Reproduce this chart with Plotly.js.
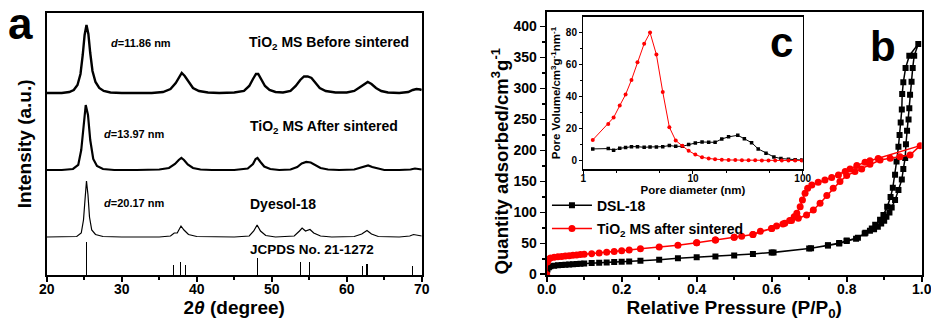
<!DOCTYPE html>
<html>
<head>
<meta charset="utf-8">
<script src="https://cdn.plot.ly/plotly-3.0.1.min.js"></script>
<style>html,body{margin:0;padding:0;background:#fff;}#chart{width:931px;height:323px;}</style>
</head>
<body>
<div id="chart"></div>
<script>
// ---- Panel a: XRD patterns (stacked, arbitrary units as read) ----
const thetaBefore = [20,21,22,23,23.6,24.1,24.5,24.8,25.05,25.3,25.55,25.8,26.1,26.5,27,27.6,28.5,30,32,34,35.5,36.5,37.2,37.7,38,38.4,38.9,39.5,40.3,41.5,43,45,46.3,47,47.5,47.9,48.2,48.6,49.1,49.7,50.5,51.5,52.5,53.2,53.8,54.3,54.8,55.3,55.8,56.4,57.2,58.5,60,61,61.7,62.3,62.8,63.3,63.9,64.6,65.5,67,68.2,68.8,69.3,69.8,70];
const intBefore = [182,182,182,183,185,190,201,220,240,250,241,222,204,193,187,184,182.5,182,182,182,183,186,192,198,202,199,193,187,184,182.5,182,182.5,184,189,196,201,201,196,189,185,183,182.5,184,189,195,198.5,198.5,197,192,187,184,182.5,182.5,184,187.5,191,193,191,187,184,182.5,182,183,185,186,185.5,185];

const thetaAfter = [20,22,23.5,24.2,24.6,24.9,25.2,25.5,25.8,26.2,26.7,27.5,29,32,35,36.3,37.1,37.6,37.95,38.3,38.8,39.5,40.5,42,45,46.8,47.5,47.85,48.1,48.5,49,49.8,51,52.5,53.4,54,54.6,55.2,55.8,56.5,57.5,59,61,61.9,62.4,62.85,63.4,64.1,65,67,68.5,69.1,69.7,70];
const intAfter = [105,105,106,110,125,150,170,160,135,116,109,106,105,105,105.5,107,111,115,117,115,110.5,107,105.5,105,105,106.5,111,116,117,113,108.5,106,105,105.5,108,111.5,113,112.5,110,107,105.5,105,105.5,107.5,109,109.5,108,106.5,105,105,105.5,106.5,106,105.5];

const thetaDyesol = [20,23,24,24.6,24.9,25.1,25.3,25.5,25.7,26,26.5,27.5,30,35,36.5,37,37.4,37.9,38.3,38.9,40,45,47,47.6,48.05,48.5,49.2,50.5,53,53.7,54.05,54.5,55.1,55.6,56.5,58,61,62,62.7,63.3,64.2,67,68.4,68.9,69.5,70];
const intDyesol = [38,38,38.5,42,55,75,94,80,58,45,40.5,38.5,38,38,39,42,42,49,45,40.5,38.5,38,39,44,50,44,39.5,38,39,44,47,44,45.5,42,39,38,38.5,41,44.5,41,38.5,38,39,40.5,39.5,39];

const jcpdsTheta = [25.3,36.95,37.8,38.55,48.05,53.85,55.05,62.1,62.7,68.8];
const jcpdsInt = [33,10.5,13.3,10.5,16.7,13.3,13.3,9,11.5,9.3];

// ---- Panel b: N2 isotherms ----
const dslAdsP = [0,0.002,0.006,0.01,0.02,0.03,0.04,0.05,0.06,0.07,0.08,0.09,0.1,0.12,0.14,0.16,0.18,0.2,0.22,0.25,0.3,0.35,0.4,0.45,0.5,0.55,0.6,0.7,0.75,0.78,0.8,0.825,0.848,0.862,0.873,0.883,0.892,0.9,0.906,0.914,0.92,0.929,0.938,0.947,0.951,0.956,0.958,0.961,0.965,0.967,0.969,0.973,0.976,0.98,0.991];
const dslAdsQ = [0,8,11.5,13,14,14.7,15.2,15.7,16.1,16.5,16.9,17.3,17.6,18.2,18.8,19.3,19.8,20.3,20.8,21.8,23.7,26,27.5,29,30.3,33,35.3,41.8,46.8,50,54,57.5,66,70.5,73,77,82,86.6,93,100,108,120,136,153,170,188,210,232,250,268,290,311,333,353,372];
const dslDesP = [0.967,0.957,0.951,0.948,0.947,0.944,0.941,0.938,0.933,0.929,0.923,0.917,0.908,0.898,0.889,0.876,0.867,0.85,0.83,0.8,0.78,0.75,0.705,0.605];
const dslDesQ = [353,333,310,291,266,245,225,206,182,161,140,125,109,96,88,80,74,67,59,54.5,50.5,47,42,35.5];

const msAdsP = [0,0.002,0.005,0.01,0.02,0.03,0.04,0.05,0.06,0.07,0.08,0.09,0.1,0.12,0.14,0.16,0.18,0.2,0.22,0.25,0.3,0.35,0.4,0.45,0.5,0.52,0.55,0.57,0.6,0.613,0.635,0.653,0.671,0.693,0.711,0.729,0.747,0.764,0.782,0.8,0.822,0.84,0.862,0.889,0.916,0.942,0.969,0.996];
const msAdsQ = [0,20,24.5,26.5,27.5,28.3,29,29.6,30.2,30.8,31.4,32,32.5,33.5,34.5,35.6,36.8,38,39.5,41.5,44,47.2,51,55.5,60,61.7,64.5,69.5,74,78,82.4,87,90.5,95.8,104,114.8,127.2,139,150,159.4,165.9,170.2,177.7,184.7,187.4,190,192.7,207.8];
const msDesP = [0.884,0.862,0.849,0.827,0.809,0.796,0.778,0.76,0.742,0.724,0.707,0.696,0.689,0.682,0.676,0.667,0.66,0.648,0.63,0.6,0.55,0.5,0.45,0.4];
const msDesQ = [187,183.5,181,175.6,170.2,165.9,160.5,156.2,152.4,148.6,144.3,139,131,120,109.3,98.5,93,87,81.5,74,64.5,60,55.5,51];

// ---- Panel c (inset): pore size distribution ----
const poreDslD = [1.22,1.69,1.89,2.15,2.43,2.75,3.12,3.59,4.06,4.64,5.3,6.09,6.96,8.0,9.13,10.5,12.1,13.9,15.9,18.3,21.1,25.6,29.4,34.2,39.3,46.3,54.6,63.3,74.2,85.3,98.1];
const poreDslV = [7.5,7.7,6.6,7.9,8.3,8.9,8.9,8.5,8.7,8.7,8.9,9.6,9.1,9.1,10.2,11.2,11.8,11.6,11.6,13.7,15.0,16.0,13.9,11.4,7.5,4.8,2.5,1.5,1.0,0.8,0.6];
const poreMsD = [1.22,1.69,1.89,2.15,2.43,2.75,3.12,3.59,4.06,4.64,5.3,6.09,6.96,8.0,9.13,10.5,12.1,13.9,15.9,18.3,21.1,24.3,27.9,32.1,36.9,42.4,48.8,56.1,64.5,74.2,85.3,98.1];
const poreMsV = [13.1,23.1,27.0,34.5,41.4,50.5,61.5,73.1,80,66.3,43,21,12.7,9.4,6.3,4.0,2.3,1.5,1.0,0.8,0.6,0.6,0.4,0.4,0.4,0.2,0.2,0.2,0.2,0.2,0.2,0.2];

const FONT = 'Liberation Sans, Arial, sans-serif';
const bold = (size) => ({family: FONT, size: size, color: '#000', weight: 700});

const traces = [
  {x: thetaBefore, y: intBefore, xaxis: 'x', yaxis: 'y', mode: 'lines', line: {color: '#000', width: 2.4}, showlegend: false, name: 'TiO2 MS Before sintered'},
  {x: thetaAfter, y: intAfter, xaxis: 'x', yaxis: 'y', mode: 'lines', line: {color: '#000', width: 2.2}, showlegend: false, name: 'TiO2 MS After sintered'},
  {x: thetaDyesol, y: intDyesol, xaxis: 'x', yaxis: 'y', mode: 'lines', line: {color: '#000', width: 1.2}, showlegend: false, name: 'Dyesol-18'},
  {x: jcpdsTheta, y: jcpdsInt, xaxis: 'x', yaxis: 'y', type: 'bar', width: 0.16, marker: {color: '#000', line: {width: 0}}, showlegend: false, name: 'JCPDS No. 21-1272'},
  {x: dslAdsP.concat(dslDesP), y: dslAdsQ.concat(dslDesQ), xaxis: 'x2', yaxis: 'y2', mode: 'lines+markers', name: 'DSL-18', legendgroup: 'g1',
   line: {color: '#000', width: 1.5}, marker: {symbol: 'square', size: 6, color: '#000'}},
  {x: msAdsP.concat(msDesP), y: msAdsQ.concat(msDesQ), xaxis: 'x2', yaxis: 'y2', mode: 'lines+markers', name: 'TiO<sub>2</sub> MS after sintered', legendgroup: 'g2',
   line: {color: '#ff0000', width: 1.5}, marker: {symbol: 'circle', size: 7, color: '#ff0000'}},
  {x: poreDslD, y: poreDslV, xaxis: 'x3', yaxis: 'y3', mode: 'lines+markers', showlegend: false, name: 'DSL-18 PSD',
   line: {color: '#000', width: 1}, marker: {symbol: 'square', size: 3.5, color: '#000'}},
  {x: poreMsD, y: poreMsV, xaxis: 'x3', yaxis: 'y3', mode: 'lines+markers', showlegend: false, name: 'TiO2 MS PSD',
   line: {color: '#ff0000', width: 1}, marker: {symbol: 'circle', size: 4, color: '#ff0000'}}
];

const axBase = {showgrid: false, zeroline: false, showline: true, linecolor: '#000', mirror: true, ticklabeloverflow: 'allow'};

const layout = {
  width: 931, height: 323,
  margin: {l: 0, r: 0, t: 0, b: 0},
  paper_bgcolor: '#fff', plot_bgcolor: 'rgba(0,0,0,0)',
  font: {family: FONT, color: '#000'},
  bargap: 0,
  xaxis: Object.assign({}, axBase, {domain: [0.0502, 0.4530], anchor: 'y', range: [20, 70], dtick: 10, linewidth: 2,
    ticks: 'outside', ticklen: 5, tickwidth: 1.8, tickcolor: '#000', tickfont: bold(14), ticklabelstandoff: -5,
    minor: {dtick: 5, ticks: 'outside', ticklen: 3, tickwidth: 1.5, tickcolor: '#000'},
    title: {text: '2<i>θ</i> (degree)', font: bold(19), standoff: 2}}),
  yaxis: Object.assign({}, axBase, {domain: [0.1486, 0.9607], anchor: 'x', range: [0, 262.3], linewidth: 2,
    showticklabels: false, ticks: '',
    title: {text: 'Intensity (a.u.)', font: bold(19), standoff: 8}}),
  xaxis2: Object.assign({}, axBase, {domain: [0.5872, 0.99], anchor: 'y2', range: [0, 1], dtick: 0.2, tickformat: '.1f', linewidth: 2,
    ticks: 'outside', ticklen: 5, tickwidth: 1.8, tickcolor: '#000', tickfont: bold(14), ticklabelstandoff: -5,
    minor: {dtick: 0.1, ticks: 'outside', ticklen: 3, tickwidth: 1.5, tickcolor: '#000'},
    title: {text: 'Relative Pressure (P/P<sub>0</sub>)', font: bold(19), standoff: 2}}),
  yaxis2: Object.assign({}, axBase, {domain: [0.1486, 0.9638], anchor: 'x2', range: [-1, 424], dtick: 50, linewidth: 2,
    ticks: 'outside', ticklen: 5, tickwidth: 1.8, tickcolor: '#000', tickfont: bold(14),
    minor: {dtick: 25, ticks: 'outside', ticklen: 3, tickwidth: 1.5, tickcolor: '#000'}}),
  xaxis3: Object.assign({}, axBase, {domain: [0.6265, 0.8622], anchor: 'y3', type: 'log', range: [0, 2], dtick: 1, linewidth: 1.3,
    ticks: 'outside', ticklen: 3, tickwidth: 1, tickcolor: '#000', tickfont: bold(10), ticklabelstandoff: -4,
    minor: {dtick: 'D2', ticks: 'outside', ticklen: 2, tickwidth: 1, tickcolor: '#000'},
    title: {text: 'Pore diameter (nm)', font: bold(11.5), standoff: 0}}),
  yaxis3: Object.assign({}, axBase, {domain: [0.4759, 0.9483], anchor: 'x3', range: [-5.2, 89.9], dtick: 20, linewidth: 1.3,
    ticks: 'outside', ticklen: 3, tickwidth: 1, tickcolor: '#000', tickfont: bold(10),
    minor: {dtick: 10, ticks: 'outside', ticklen: 2, tickwidth: 1, tickcolor: '#000'},
    title: {text: 'Pore Volume/cm<sup>3</sup>g<sup>-1</sup>nm<sup>-1</sup>', font: bold(11.5), standoff: 2}}),
  legend: {x: 0.5875, y: 0.413, xanchor: 'left', yanchor: 'top', bgcolor: 'rgba(0,0,0,0)', font: bold(14),
    itemwidth: 40, tracegroupgap: 2},
  annotations: [
    {xref: 'paper', yref: 'paper', x: 500/931, y: 1 - 161.5/323, text: 'Quantity adsorbed/cm<sup>3</sup>g<sup>-1</sup>', textangle: -90,
     showarrow: false, font: bold(18.6), xanchor: 'center', yanchor: 'middle'},
    {xref: 'paper', yref: 'paper', x: 20.5/931, y: 1 - 23.8/323, text: '<b>a</b>', showarrow: false, font: bold(44), xanchor: 'center', yanchor: 'middle'},
    {xref: 'paper', yref: 'paper', x: 883/931, y: 1 - 46.7/323, text: '<b>b</b>', showarrow: false, font: bold(42), xanchor: 'center', yanchor: 'middle'},
    {xref: 'paper', yref: 'paper', x: 781/931, y: 1 - 42.4/323, text: '<b>c</b>', showarrow: false, font: bold(42), xanchor: 'center', yanchor: 'middle'},
    {xref: 'x', yref: 'y', x: 28.3, y: 232.3, text: '<i>d</i>=11.86 nm', showarrow: false, font: bold(11), xanchor: 'left', yanchor: 'middle'},
    {xref: 'x', yref: 'y', x: 46.7, y: 232.3, text: 'TiO<sub>2</sub> MS Before sintered', showarrow: false, font: bold(14), xanchor: 'left', yanchor: 'middle'},
    {xref: 'x', yref: 'y', x: 27.4, y: 140.7, text: '<i>d</i>=13.97 nm', showarrow: false, font: bold(11), xanchor: 'left', yanchor: 'middle'},
    {xref: 'x', yref: 'y', x: 46.8, y: 148.3, text: 'TiO<sub>2</sub> MS After sintered', showarrow: false, font: bold(14), xanchor: 'left', yanchor: 'middle'},
    {xref: 'x', yref: 'y', x: 27.4, y: 71.7, text: '<i>d</i>=20.17 nm', showarrow: false, font: bold(11), xanchor: 'left', yanchor: 'middle'},
    {xref: 'x', yref: 'y', x: 46.9, y: 71, text: 'Dyesol-18', showarrow: false, font: bold(14), xanchor: 'left', yanchor: 'middle'},
    {xref: 'x', yref: 'y', x: 46.9, y: 25.7, text: 'JCPDS No. 21-1272', showarrow: false, font: bold(13.5), xanchor: 'left', yanchor: 'middle'}
  ]
};

Plotly.newPlot('chart', traces, layout, {staticPlot: true, displayModeBar: false});
</script>
</body>
</html>
